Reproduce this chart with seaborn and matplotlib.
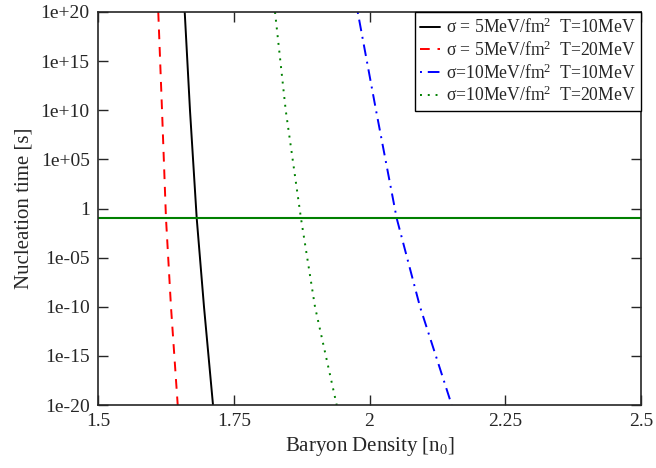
import numpy as np
import pandas as pd
import matplotlib
matplotlib.use("Agg")
import matplotlib.pyplot as plt
import seaborn as sns

# Nucleation time levels (s) at which densities were read
time_levels = [1e20, 1e10, 1e-1, 1e-10, 1e-20]

dens_s5_T10 = [1.6597, 1.6694, 1.6818, 1.6952, 1.7118]
dens_s5_T20 = [1.6110, 1.6179, 1.6252, 1.6344, 1.6468]
dens_s10_T10 = [1.9783, 2.0120, 2.0501, 2.0930, 2.1514]
dens_s10_T20 = [1.8260, 1.8457, 1.8738, 1.8996, 1.9396]

labels = [
    r"$\sigma$ = 5MeV/fm$^2$  T=10MeV",
    r"$\sigma$ = 5MeV/fm$^2$  T=20MeV",
    r"$\sigma$=10MeV/fm$^2$  T=10MeV",
    r"$\sigma$=10MeV/fm$^2$  T=20MeV",
]
threshold_time = 1e-1

x_ticks = [1.5, 1.75, 2.0, 2.25, 2.5]
x_ticklabels = ["1.5", "1.75", "2", "2.25", "2.5"]
y_ticks = [1e20, 1e15, 1e10, 1e5, 1, 1e-5, 1e-10, 1e-15, 1e-20]
y_ticklabels = ["1e+20", "1e+15", "1e+10", "1e+05", "1", "1e-05", "1e-10", "1e-15", "1e-20"]

sns.set_style("ticks")
plt.rcParams["font.family"] = ["Liberation Serif", "DejaVu Serif"]
plt.rcParams["mathtext.fontset"] = "custom"
plt.rcParams["mathtext.rm"] = "Liberation Serif"
plt.rcParams["mathtext.it"] = "Liberation Serif:italic"
plt.rcParams["mathtext.default"] = "rm"

fig = plt.figure(figsize=(6.56, 4.68), dpi=100)
ax = fig.add_axes([98/656, 1-405/468, (641-98)/656, (405-12)/468])

series = [dens_s5_T10, dens_s5_T20, dens_s10_T10, dens_s10_T20]
colors = ["black", "#ff0000", "#0000ff", "#008000"]
styles = ["-", (0, (5, 4)), (0, (1, 3, 6, 3)), (0, (1, 3))]

for dens, lab, c, ls in zip(series, labels, colors, styles):
    df = pd.DataFrame({"density": dens, "time": time_levels})
    sns.lineplot(data=df, x="density", y="time", sort=False, color=c,
                 linestyle=ls, linewidth=1.4, label=lab, ax=ax)

ax.axhline(threshold_time, color="#008000", linewidth=1.5)

ax.set_yscale("log")
ax.set_xlim(1.5, 2.5)
ax.set_ylim(1e-20, 1e20)
ax.set_xticks(x_ticks)
ax.set_xticklabels(x_ticklabels)
ax.set_yticks(y_ticks)
ax.set_yticklabels(y_ticklabels)
ax.minorticks_off()
ax.tick_params(direction="in", length=7, width=1, labelsize=14, top=True, right=True, pad=6)
for s in ax.spines.values():
    s.set_linewidth(1.2)
    s.set_visible(True)

ax.set_xlabel(r"Baryon Density [n$_0$]", fontsize=15, labelpad=3)
ax.set_ylabel("Nucleation time [s]", fontsize=15, labelpad=5)

leg = ax.legend(loc="upper right", borderaxespad=0, fontsize=12.7, frameon=True,
                fancybox=False, framealpha=1, edgecolor="black", handlelength=1.1,
                handletextpad=0.35, labelspacing=0.2, borderpad=0.3)
leg.get_frame().set_linewidth(1.0)

fig.savefig("out.png", dpi=100)
